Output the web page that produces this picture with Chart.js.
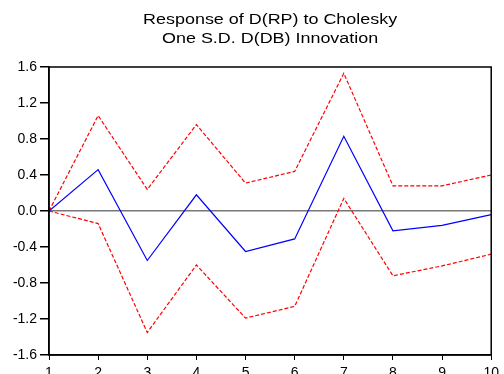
<!DOCTYPE html>
<html>
<head>
<meta charset="utf-8">
<script src="https://cdn.jsdelivr.net/npm/chart.js@4/dist/chart.umd.min.js"></script>
<style>
  body { margin: 0; background: #fff; }
  #wrap { width: 504px; height: 374px; }
</style>
</head>
<body>
<div id="wrap"><canvas id="irf" width="504" height="374"></canvas></div>
<script>
// impulse response of D(RP) to a D(DB) shock, with +/- 2 S.E. bands
const periods = [1, 2, 3, 4, 5, 6, 7, 8, 9, 10];
const response = [0, 0.46, -0.55, 0.18, -0.45, -0.31, 0.83, -0.22, -0.16, -0.04];
const upperBand = [0, 1.06, 0.24, 0.96, 0.31, 0.44, 1.53, 0.28, 0.28, 0.40];
const lowerBand = [0, -0.14, -1.35, -0.60, -1.19, -1.06, 0.14, -0.72, -0.61, -0.48];
const titleLines = ["Response of D(RP) to Cholesky", "One S.D. D(DB) Innovation"];

const FONT = "'Liberation Sans', Arial, sans-serif";

function toPoints(vals) {
    return periods.map((p, i) => ({ x: p, y: vals[i] }));
}

// title centred over the plot area, a bit wide like the EViews output
const titlePlugin = {
    id: 'irfTitle',
    afterDraw(chart) {
        const ctx = chart.ctx;
        const area = chart.chartArea;
        const cx = (area.left + area.right) / 2;
        ctx.save();
        ctx.fillStyle = '#000';
        ctx.font = '14px ' + FONT;
        ctx.textAlign = 'center';
        ctx.textBaseline = 'alphabetic';
        ctx.translate(cx, 0);
        ctx.scale(1.28, 1);
        ctx.fillText(titleLines[0], 0, 24);
        ctx.fillText(titleLines[1], 0, 43);
        ctx.restore();
    }
};

// box around the plot area
const framePlugin = {
    id: 'frame',
    afterDatasetsDraw(chart) {
        const ctx = chart.ctx;
        const a = chart.chartArea;
        ctx.save();
        ctx.strokeStyle = '#000';
        ctx.lineWidth = 1.5;
        ctx.strokeRect(a.left, a.top, a.right - a.left, a.bottom - a.top);
        ctx.restore();
    }
};

new Chart(document.getElementById('irf'), {
    type: 'line',
    data: {
        datasets: [
            {
                data: toPoints(response),
                borderColor: '#0000ff',
                borderWidth: 1.2
            },
            {
                data: toPoints(upperBand),
                borderColor: '#ff0000',
                borderWidth: 1.2,
                borderDash: [4, 2]
            },
            {
                data: toPoints(lowerBand),
                borderColor: '#ff0000',
                borderWidth: 1.2,
                borderDash: [4, 2]
            }
        ]
    },
    options: {
        responsive: false,
        animation: false,
        layout: {
            autoPadding: false,
            padding: { top: 67, left: 0, right: 7, bottom: 0 }
        },
        elements: {
            point: { radius: 0 },
            line: { tension: 0 }
        },
        plugins: {
            legend: { display: false },
            title: { display: false },
            tooltip: { enabled: false }
        },
        scales: {
            x: {
                type: 'linear',
                min: 1,
                max: 10,
                afterFit(scale) { scale.height = 19; },
                border: { color: '#000', width: 1.5 },
                grid: {
                    drawOnChartArea: false,
                    tickLength: 5,
                    tickColor: '#000'
                },
                ticks: {
                    stepSize: 1,
                    padding: 5,
                    color: '#000',
                    font: { family: FONT, size: 14 }
                }
            },
            y: {
                min: -1.6,
                max: 1.6,
                afterFit(scale) { scale.width = 49; },
                border: { color: '#000', width: 1.5 },
                grid: {
                    color: ctx => (Math.abs(ctx.tick.value) < 1e-9 ? '#777' : 'transparent'),
                    lineWidth: 1.5,
                    tickLength: 9,
                    tickColor: '#000'
                },
                ticks: {
                    stepSize: 0.4,
                    padding: 3,
                    color: '#000',
                    font: { family: FONT, size: 14 },
                    callback: v => v.toFixed(1)
                }
            }
        }
    },
    plugins: [titlePlugin, framePlugin]
});
</script>
</body>
</html>
